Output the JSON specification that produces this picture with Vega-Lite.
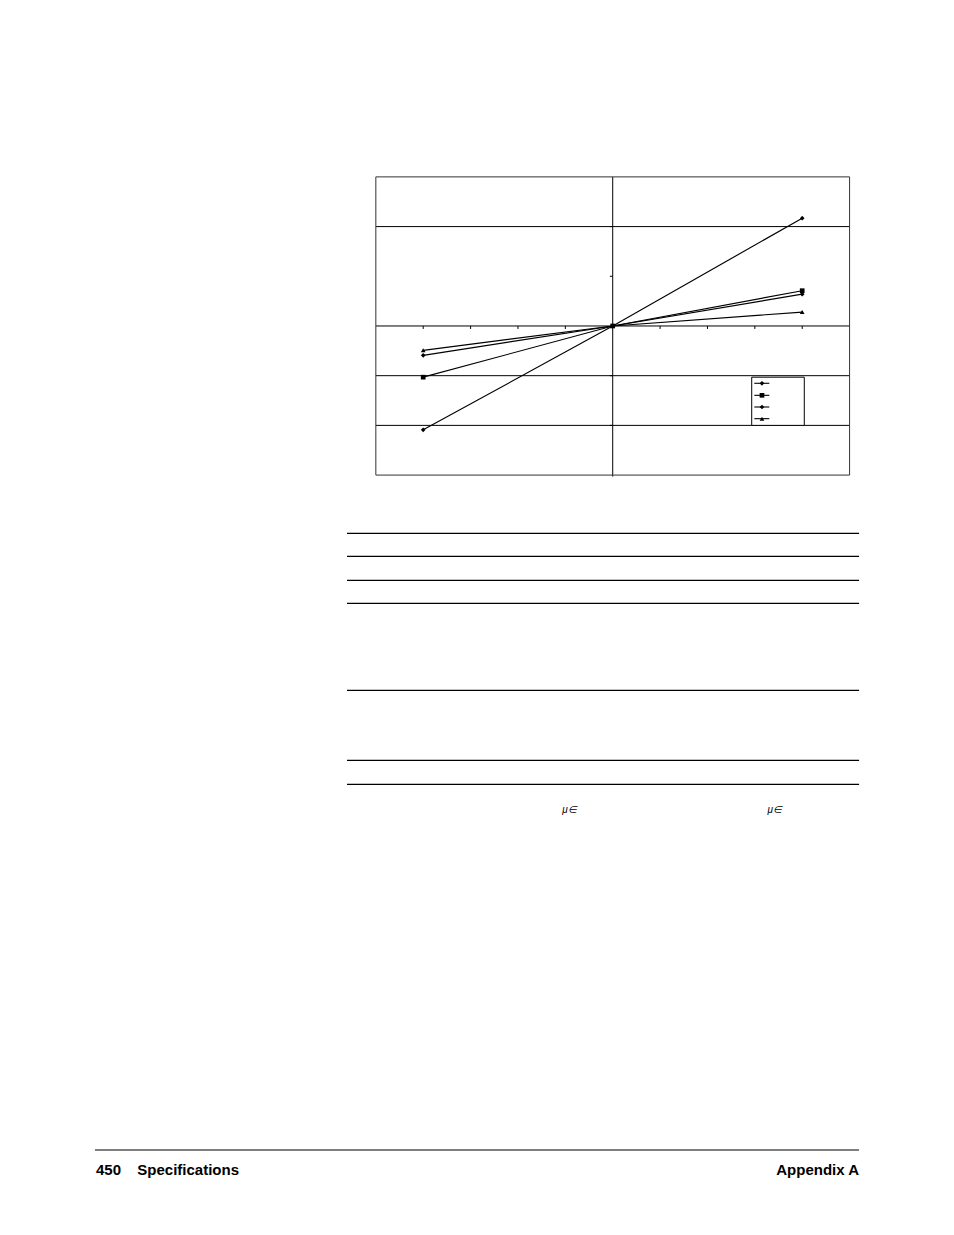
{
  "$schema": "https://vega.github.io/schema/vega-lite/v6.json",
  "width": 954,
  "height": 1235,
  "autosize": {"type": "fit", "contains": "padding"},
  "padding": 0,
  "background": "white",
  "view": {"stroke": null},
  "datasets": {
    "series": [
      {"series": "S1", "x": -4, "y": -2.09},
      {"series": "S1", "x": 0, "y": 0},
      {"series": "S1", "x": 4, "y": 2.17},
      {"series": "S2", "x": -4, "y": -1.03},
      {"series": "S2", "x": 0, "y": 0},
      {"series": "S2", "x": 4, "y": 0.71},
      {"series": "S3", "x": -4, "y": -0.59},
      {"series": "S3", "x": 0, "y": 0},
      {"series": "S3", "x": 4, "y": 0.64},
      {"series": "S4", "x": -4, "y": -0.49},
      {"series": "S4", "x": 0, "y": 0},
      {"series": "S4", "x": 4, "y": 0.28}
    ],
    "frame": [{"x": -5, "x2": 5, "y": -3, "y2": 3}],
    "gridrules": [
      {"x": -5, "x2": 5, "y": 2, "y2": 2},
      {"x": -5, "x2": 5, "y": -1, "y2": -1},
      {"x": -5, "x2": 5, "y": -2, "y2": -2},
      {"x": -5, "x2": 5, "y": 0, "y2": 0},
      {"x": 0, "x2": 0, "y": -3.03, "y2": 3},
      {"x": -4, "x2": -4, "y": 0, "y2": -0.06},
      {"x": -3, "x2": -3, "y": 0, "y2": -0.06},
      {"x": -2, "x2": -2, "y": 0, "y2": -0.06},
      {"x": -1, "x2": -1, "y": 0, "y2": -0.06},
      {"x": 1, "x2": 1, "y": 0, "y2": -0.06},
      {"x": 2, "x2": 2, "y": 0, "y2": -0.06},
      {"x": 3, "x2": 3, "y": 0, "y2": -0.06},
      {"x": 4, "x2": 4, "y": 0, "y2": -0.06},
      {"x": -0.06, "x2": 0, "y": 1, "y2": 1},
      {"x": -0.06, "x2": 0, "y": 2, "y2": 2},
      {"x": -0.06, "x2": 0, "y": -1, "y2": -1},
      {"x": -0.06, "x2": 0, "y": -2, "y2": -2}
    ],
    "legendbox": [{"x": 2.934, "x2": 4.044, "y": -1.03, "y2": -2.0}],
    "legendrows": [
      {"series": "S1", "x": 2.989, "x2": 3.306, "xm": 3.151, "y": -1.153},
      {"series": "S2", "x": 2.989, "x2": 3.306, "xm": 3.151, "y": -1.395},
      {"series": "S3", "x": 2.989, "x2": 3.306, "xm": 3.151, "y": -1.63},
      {"series": "S4", "x": 2.989, "x2": 3.306, "xm": 3.151, "y": -1.865}
    ],
    "pagerules": [
      {"px": 222.6, "px2": 551.1, "py": 342.0},
      {"px": 222.6, "px2": 551.1, "py": 356.8},
      {"px": 222.6, "px2": 551.1, "py": 372.2},
      {"px": 222.6, "px2": 551.1, "py": 386.9},
      {"px": 222.6, "px2": 551.1, "py": 442.7},
      {"px": 222.6, "px2": 551.1, "py": 487.6},
      {"px": 222.6, "px2": 551.1, "py": 503.0},
      {"px": 60.9, "px2": 551.1, "py": 737.5}
    ],
    "units": [
      {"label": "μ∈", "px": 365.3, "py": 519.5},
      {"label": "μ∈", "px": 497.0, "py": 519.5}
    ],
    "footleft": [
      {"label": "450", "px": 61.6, "py": 753.6},
      {"label": "Specifications", "px": 88.1, "py": 753.6}
    ],
    "footright": [
      {"label": "Appendix A", "px": 551.1, "py": 753.6}
    ]
  },
  "layer": [
    {
      "encoding": {
        "x": {"field": "x", "type": "quantitative", "axis": null, "scale": {"domain": [-12.933, 7.204], "nice": false, "zero": false}},
        "y": {"field": "y", "type": "quantitative", "axis": null, "scale": {"domain": [-18.29, 6.559], "nice": false, "zero": false}}
      },
      "layer": [
        {
          "data": {"name": "gridrules"},
          "mark": {"type": "rule", "color": "black", "strokeWidth": 1},
          "encoding": {"x2": {"field": "x2"}, "y2": {"field": "y2"}}
        },
        {
          "data": {"name": "frame"},
          "mark": {"type": "rect", "fill": null, "fillOpacity": 0, "stroke": "#333333", "strokeWidth": 1},
          "encoding": {"x2": {"field": "x2"}, "y2": {"field": "y2"}}
        },
        {
          "data": {"name": "legendbox"},
          "mark": {"type": "rect", "fill": "white", "stroke": "black", "strokeWidth": 1},
          "encoding": {"x2": {"field": "x2"}, "y2": {"field": "y2"}}
        },
        {
          "data": {"name": "legendrows"},
          "mark": {"type": "rule", "color": "black", "strokeWidth": 1.1},
          "encoding": {"x2": {"field": "x2"}}
        },
        {
          "data": {"name": "legendrows"},
          "mark": {"type": "point", "filled": true, "color": "black", "opacity": 1, "size": 22},
          "encoding": {
            "x": {"field": "xm", "type": "quantitative", "axis": null, "scale": {"domain": [-12.933, 7.204], "nice": false, "zero": false}},
            "shape": {"field": "series", "type": "nominal", "legend": null, "scale": {"domain": ["S1", "S2", "S3", "S4"], "range": ["diamond", "square", "diamond", "triangle-up"]}}
          }
        },
        {
          "data": {"name": "series"},
          "mark": {"type": "line", "color": "black", "strokeWidth": 1.15},
          "encoding": {"detail": {"field": "series", "type": "nominal"}}
        },
        {
          "data": {"name": "series"},
          "mark": {"type": "point", "filled": true, "color": "black", "opacity": 1, "size": 22},
          "encoding": {
            "shape": {"field": "series", "type": "nominal", "legend": null, "scale": {"domain": ["S1", "S2", "S3", "S4"], "range": ["diamond", "square", "diamond", "triangle-up"]}}
          }
        }
      ]
    },
    {
      "encoding": {
        "x": {"field": "px", "type": "quantitative", "axis": null, "scale": {"domain": [0, 612], "nice": false, "zero": false}},
        "y": {"field": "py", "type": "quantitative", "axis": null, "scale": {"domain": [0, 792], "nice": false, "zero": false, "reverse": true}}
      },
      "layer": [
        {
          "data": {"name": "pagerules"},
          "mark": {"type": "rule", "color": "black", "strokeWidth": 1.2},
          "encoding": {"x2": {"field": "px2"}}
        },
        {
          "data": {"name": "units"},
          "mark": {"type": "text", "font": "Liberation Sans", "fontSize": 10, "fontStyle": "italic", "align": "center", "baseline": "middle", "color": "black"},
          "encoding": {"text": {"field": "label", "type": "nominal"}}
        },
        {
          "data": {"name": "footleft"},
          "mark": {"type": "text", "font": "Liberation Sans", "fontSize": 15, "fontWeight": "bold", "align": "left", "baseline": "alphabetic", "color": "black"},
          "encoding": {"text": {"field": "label", "type": "nominal"}}
        },
        {
          "data": {"name": "footright"},
          "mark": {"type": "text", "font": "Liberation Sans", "fontSize": 15, "fontWeight": "bold", "align": "right", "baseline": "alphabetic", "color": "black"},
          "encoding": {"text": {"field": "label", "type": "nominal"}}
        }
      ]
    }
  ],
  "resolve": {"scale": {"x": "independent", "y": "independent"}}
}
